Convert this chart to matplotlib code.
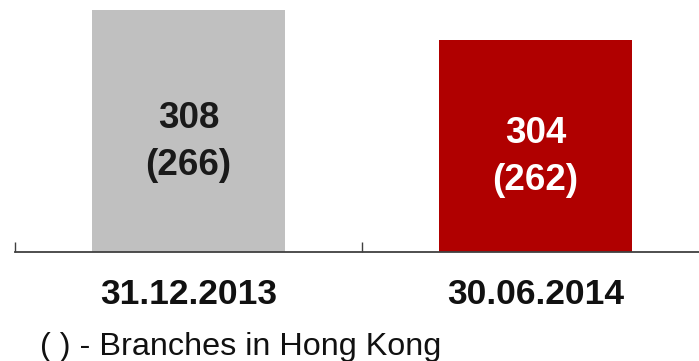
import matplotlib
matplotlib.use("Agg")
import matplotlib.pyplot as plt
from matplotlib.transforms import offset_copy

categories = ["31.12.2013", "30.06.2014"]
total_branches = [308, 304]
hk_branches = [266, 262]
bar_colors = ["#c0c0c0", "#b00000"]
label_colors = ["#1a1a1a", "#ffffff"]
footnote = "( ) - Branches in Hong Kong"

plt.rcParams['font.family'] = ['Liberation Sans', 'DejaVu Sans']

W, H = 699, 361
fig = plt.figure(figsize=(W / 100, H / 100), dpi=100)
ax = fig.add_axes([15 / W, 1 - 252 / H, 694 / W, 252 / H])

x = list(range(len(categories)))
ax.bar(x, total_branches, width=0.558, color=bar_colors, zorder=2)
ax.set_xlim(-0.5, len(categories) - 0.5)
ymin, ymax = 275.7, 309.3
ax.set_ylim(ymin, ymax)

for sp in ["left", "right", "top"]:
    ax.spines[sp].set_visible(False)
ax.spines["bottom"].set_color("#404040")
ax.spines["bottom"].set_linewidth(1.3)
ax.set_yticks([])
ax.set_xticks([i - 0.5 for i in range(len(categories) + 1)])
ax.set_xticklabels([])
ax.tick_params(axis="x", direction="in", length=7.5, width=1.0, color="#404040")

for i, cat in enumerate(categories):
    ax.text(i, -0.17, cat, transform=ax.get_xaxis_transform(), ha="center",
            va="center", fontsize=25.5, fontweight="bold", color="#111111")
    tr = offset_copy(ax.transData, fig=fig, x=0, y=-11, units="dots")
    ax.text(i, (total_branches[i] + ymin) / 2, f"{total_branches[i]}\n({hk_branches[i]})",
            transform=tr, ha="center", va="center", fontsize=26.5,
            fontweight="bold", color=label_colors[i], linespacing=1.42)

fig.text(40 / W, 1 - 355 / H, footnote, ha="left", va="baseline",
         fontsize=23.3, color="#111111")

fig.savefig("out.png", dpi=100)
